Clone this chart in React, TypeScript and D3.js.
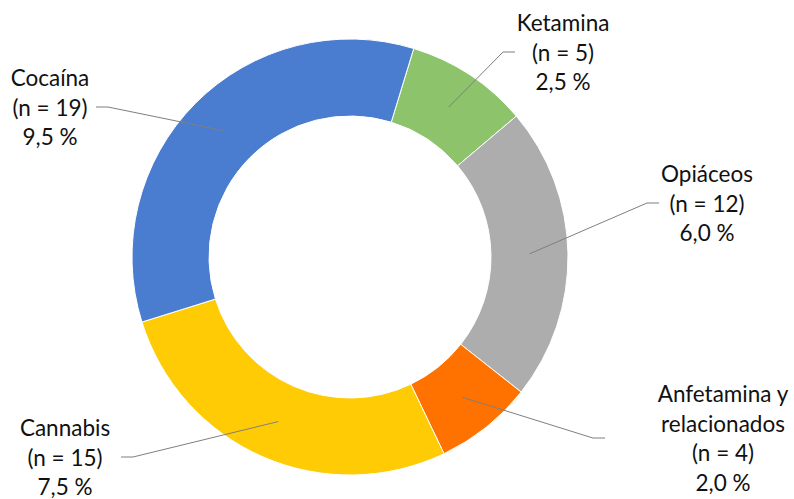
import React, { useRef, useEffect } from "react";
import * as d3 from "d3";

const categories = ["Ketamina", "Opiáceos", "Anfetamina y relacionados", "Cannabis", "Cocaína"];
const counts = [5, 12, 4, 15, 19];
const percents = ["2,5 %", "6,0 %", "2,0 %", "7,5 %", "9,5 %"];
const colors = ["#8dc36b", "#adadad", "#ff7200", "#ffcb05", "#4a7ccf"];

// label text lines, split as in the original
const labelLines = [
    ["Ketamina"],
    ["Opiáceos"],
    ["Anfetamina y", "relacionados"],
    ["Cannabis"],
    ["Cocaína"],
];

// where each leader line bends, and where the text block sits
const labelLayout = [
    { knee: [503, 52], tx: 563, side: "right" },
    { knee: [647, 203], tx: 707, side: "right" },
    { knee: [593, 438], tx: 723, side: "right" },
    { knee: [133, 457], tx: 65, side: "left" },
    { knee: [108, 107], tx: 50, side: "left" },
];

const width = 794;
const height = 499;
const cx = 350;
const cy = 257;
const outerR = 218;
const innerR = 141;
const lineH = 29.6;

const App = () => {
    const ref = useRef(null);

    useEffect(() => {
        const svg = d3.select(ref.current);
        svg.selectAll("*").remove();

        const data = categories.map((c, i) => ({ name: c, n: counts[i], i }));

        const pie = d3
            .pie()
            .value((d) => d.n)
            .sort(null)
            .startAngle((17 * Math.PI) / 180)
            .endAngle((17 * Math.PI) / 180 + Math.PI * 2);

        const arc = d3.arc().innerRadius(innerR).outerRadius(outerR);

        const g = svg.append("g").attr("transform", `translate(${cx},${cy})`);
        const arcs = pie(data);

        g.selectAll("path")
            .data(arcs)
            .enter()
            .append("path")
            .attr("d", arc)
            .attr("fill", (d) => colors[d.data.i])
            .attr("stroke", "#fff")
            .attr("stroke-width", 1);

        // leader lines + labels
        arcs.forEach((a) => {
            const i = a.data.i;
            const [mx, my] = arc.centroid(a);
            const lay = labelLayout[i];
            const kx = lay.knee[0];
            const ky = lay.knee[1];
            const ex = lay.side === "right" ? kx + 12 : kx - 12;
            svg.append("polyline")
                .attr("points", `${cx + mx},${cy + my} ${kx},${ky} ${ex},${ky}`)
                .attr("fill", "none")
                .attr("stroke", "#7f7f7f")
                .attr("stroke-width", 1);

            const lines = [...labelLines[i], `(n = ${counts[i]})`, percents[i]];
            const top = ky - ((lines.length - 1) * lineH) / 2;
            const t = svg.append("text")
                .attr("text-anchor", "middle")
                .attr("font-family", "Lato, 'Open Sans', sans-serif")
                .attr("font-size", 22.5)
                .attr("fill", "#111");
            lines.forEach((l, k) => {
                t.append("tspan")
                    .attr("x", lay.tx)
                    .attr("y", top + k * lineH)
                    .attr("dominant-baseline", "central")
                    .text(l);
            });
        });
    }, []);

    return (
        <svg
            ref={ref}
            width={width}
            height={height}
            style={{ position: "absolute", left: 0, top: 0, background: "#fff" }}
        />
    );
};

export default App;
